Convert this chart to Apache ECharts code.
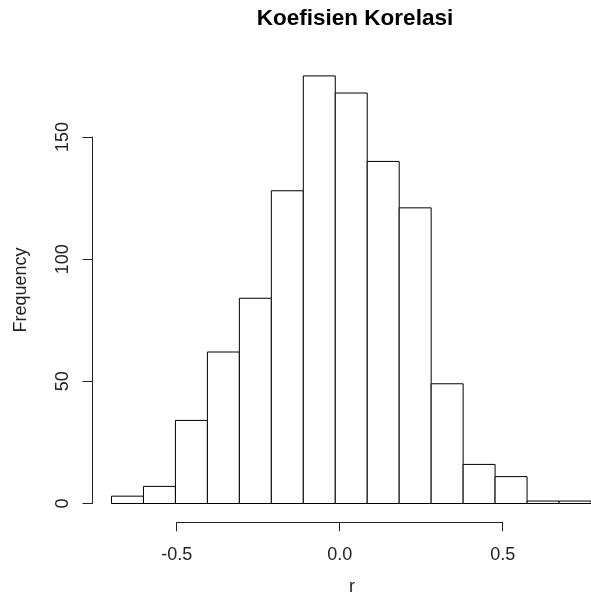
<!DOCTYPE html>
<html>
<head>
<meta charset="utf-8">
<script src="https://cdn.jsdelivr.net/npm/echarts@6/dist/echarts.min.js"></script>
<style>html,body{margin:0;padding:0;background:#fff}#c{width:591px;height:606px}</style>
</head>
<body>
<div id="c"></div>
<script>
const binStarts = [-0.7,-0.6,-0.5,-0.4,-0.3,-0.2,-0.1,0.0,0.1,0.2,0.3,0.4,0.5,0.6,0.7];
const binWidth = 0.1;
const frequencies = [3,7,34,62,84,128,175,168,140,121,49,16,11,1,1];
const xTicks = [-0.5, 0.0, 0.5];
const yTicks = [0, 50, 100, 150];
const titleText = 'Koefisien Korelasi';
const xLabel = 'r';
const yLabel = 'Frequency';

const histData = binStarts.map((s, i) => [s, +(s + binWidth).toFixed(2), frequencies[i]]);
const font = 'Liberation Sans, Arial, sans-serif';
const chart = echarts.init(document.getElementById('c'), null, {renderer: 'canvas'});
chart.setOption({
  animation: false,
  backgroundColor: '#fff',
  grid: [
    {left: 111.5, right: -9.5, top: 137, bottom: 102.5},
    {left: 176.7, width: 326, top: 137, bottom: 83.7},
    {left: 92.5, width: 10, top: 137, bottom: 102.5}
  ],
  xAxis: [
    {gridIndex: 0, type: 'value', min: -0.7, max: 0.8, show: false},
    {gridIndex: 1, type: 'value', min: xTicks[0], max: xTicks[xTicks.length-1], interval: 0.5,
     axisLine: {show: true, lineStyle: {color: '#222', width: 1}},
     axisTick: {show: true, length: 9, lineStyle: {color: '#222'}},
     splitLine: {show: false},
     axisLabel: {fontFamily: font, fontSize: 18, color: '#222', margin: 24,
       formatter: v => v.toFixed(1)}},
    {gridIndex: 2, type: 'value', show: false}
  ],
  yAxis: [
    {gridIndex: 0, type: 'value', min: 0, max: 150, show: false},
    {gridIndex: 1, type: 'value', show: false},
    {gridIndex: 2, type: 'value', min: yTicks[0], max: yTicks[yTicks.length-1], interval: 50,
     axisLine: {show: true, lineStyle: {color: '#222', width: 1}},
     axisTick: {show: true, length: 10, lineStyle: {color: '#222'}},
     splitLine: {show: false},
     axisLabel: {fontFamily: font, fontSize: 18, color: '#222', margin: 20, rotate: 90}}
  ],
  graphic: [
    {type: 'text', x: 355, y: 19,
     style: {text: titleText, font: 'bold 22.5px ' + font, fill: '#000', textAlign: 'center', textVerticalAlign: 'middle'}},
    {type: 'text', x: 352, y: 587,
     style: {text: xLabel, font: '18px ' + font, fill: '#222', textAlign: 'center', textVerticalAlign: 'middle'}},
    {type: 'text', x: 21, y: 290, rotation: Math.PI/2,
     style: {text: yLabel, font: '18px ' + font, fill: '#222', textAlign: 'center', textVerticalAlign: 'middle'}}
  ],
  series: [{
    type: 'custom', xAxisIndex: 0, yAxisIndex: 0, clip: false,
    data: histData,
    renderItem: function (params, api) {
      const p0 = api.coord([api.value(0), 0]);
      const p1 = api.coord([api.value(1), api.value(2)]);
      return {
        type: 'rect',
        shape: {x: p0[0], y: p1[1], width: p1[0] - p0[0], height: p0[1] - p1[1]},
        style: {fill: '#fff', stroke: '#000', lineWidth: 1}
      };
    }
  }]
});
</script>
</body>
</html>
